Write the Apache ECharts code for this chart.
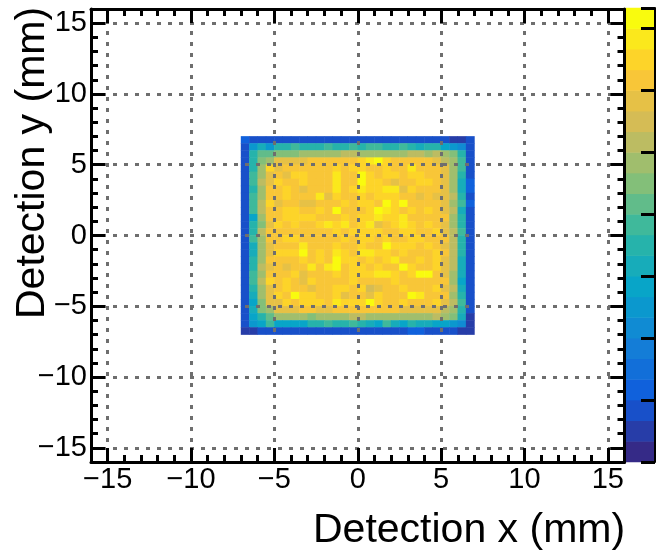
<!DOCTYPE html>
<html><head><meta charset="utf-8">
<style>html,body{margin:0;padding:0;background:#fff;overflow:hidden}#c{width:656px;height:555px}</style>
<script src="https://cdn.jsdelivr.net/npm/echarts@6/dist/echarts.min.js"></script>
</head><body><div id="c"></div>
<script>
// Palette level (0..21) of every 0.5 mm bin, rows from y=+7 (top) to y=-7, columns from x=-7 to x=+7
const levelRows = [
[3,2,2,2,2,2,2,2,2,2,2,2,2,2,2,2,2,2,2,2,2,2,2,2,2,1,1,2],
[2,7,9,7,10,10,11,10,10,10,11,10,10,11,10,11,11,10,10,11,10,9,10,10,8,7,6,2],
[2,10,12,12,13,13,13,14,14,14,14,14,15,15,14,14,14,14,14,14,15,15,14,15,14,13,10,2],
[2,10,13,14,17,17,17,17,18,18,18,18,18,18,19,20,21,19,18,18,18,18,18,17,15,14,11,2],
[2,10,14,19,17,18,18,18,18,18,18,19,18,19,19,18,18,19,18,18,20,18,18,18,17,14,11,2],
[2,11,14,17,18,17,19,19,18,18,18,20,18,18,21,19,18,19,19,18,19,19,18,18,17,14,10,2],
[2,11,15,17,19,18,18,19,18,18,18,20,18,18,21,19,19,18,17,18,18,19,19,18,17,14,9,3],
[2,10,14,18,18,19,18,17,18,18,18,20,18,19,20,19,19,20,20,17,19,18,18,18,17,14,9,3],
[2,11,14,18,18,19,18,18,18,20,17,19,18,18,19,18,19,19,19,18,18,17,18,17,17,15,10,2],
[2,11,15,19,17,18,18,17,17,18,18,18,19,18,19,19,18,21,19,21,18,18,18,18,17,14,11,3],
[2,11,15,18,18,19,19,18,18,19,18,21,18,18,18,19,21,20,19,18,19,18,19,18,17,15,9,2],
[2,8,14,18,18,19,19,19,19,18,18,18,19,18,19,19,20,19,19,20,18,18,18,18,18,14,10,2],
[2,10,13,17,19,18,19,18,18,19,20,19,20,18,19,20,17,18,19,20,19,18,19,18,17,14,10,2],
[2,10,15,18,18,18,18,18,18,18,18,19,18,19,19,19,19,18,18,19,19,18,18,19,17,15,11,2],
[2,11,14,18,18,19,19,18,18,18,18,18,19,18,19,19,18,19,18,18,19,19,18,18,18,15,10,2],
[2,9,14,17,18,18,18,20,18,18,18,19,18,18,19,18,18,21,19,19,19,18,19,18,17,15,10,2],
[2,9,14,17,19,19,19,21,18,19,18,20,19,18,20,20,19,19,18,19,18,18,18,19,18,15,10,2],
[2,10,14,18,18,18,18,19,18,19,18,21,19,19,18,19,18,19,20,18,18,19,18,19,17,15,9,2],
[2,10,15,17,18,17,18,18,20,18,20,21,18,19,19,18,19,18,18,21,19,18,18,19,17,15,9,2],
[2,11,14,18,18,18,19,17,18,18,18,19,18,19,19,19,20,20,19,18,19,21,21,18,17,14,9,2],
[2,11,15,19,18,19,18,17,19,18,18,18,18,19,18,18,18,18,19,18,18,18,18,18,18,14,8,2],
[2,10,14,17,18,19,18,18,17,18,18,19,19,18,19,16,17,18,18,19,18,18,18,19,17,15,9,2],
[2,9,14,17,19,18,21,19,19,18,18,19,17,18,18,17,19,18,18,18,21,20,18,18,18,14,10,2],
[2,8,13,17,17,19,18,19,19,19,18,20,19,19,19,21,19,18,18,19,18,18,18,19,17,15,11,2],
[2,9,13,14,17,17,17,18,18,17,17,18,18,18,18,18,18,18,18,17,17,17,17,17,15,14,10,2],
[2,8,10,12,14,14,14,14,13,14,14,14,14,15,15,14,14,14,14,14,14,14,14,15,14,13,9,1],
[2,7,8,11,8,8,8,8,10,10,11,10,10,11,10,9,8,11,9,8,10,9,9,8,8,7,6,1],
[1,1,2,2,2,2,2,2,2,2,2,2,2,2,2,2,2,2,2,2,3,3,2,2,2,2,1,1]
];
// ROOT "bird" palette anchors
const birdStops = [[53,42,135],[15,92,221],[20,129,214],[6,164,202],[46,183,164],[135,191,119],[209,187,89],[254,200,50],[249,251,14]];
const levelCount = 22;
const xMajorTicks = [-15,-10,-5,0,5,10,15];
const yMajorTicks = [-15,-10,-5,0,5,10,15];
const axisRange = [-16,16];
const binWidth = 0.5;

const palette = [];
for (let i=0;i<levelCount;i++){
  const t=i/(levelCount-1)*(birdStops.length-1), k=Math.min(Math.floor(t),birdStops.length-2), f=t-k;
  const c=birdStops[k].map((v,j)=>Math.round(v+(birdStops[k+1][j]-v)*f));
  palette.push(`rgb(${c[0]},${c[1]},${c[2]})`);
}
const binCats=[]; for(let v=axisRange[0];v<axisRange[1];v+=binWidth) binCats.push(String(v));
const offset=(-7-axisRange[0])/binWidth;
const cells=[];
levelRows.forEach((r,ri)=>r.forEach((lv,ci)=>cells.push([ci+offset,levelRows.length-1-ri+offset,lv])));
const fmt=v=>v<0?'\u2212'+Math.abs(v):String(v);
const lineBlack={color:'#000',width:3};
function axes(pos,vals,isX){
  const base={type:'value',min:axisRange[0],max:axisRange[1],gridIndex:0,position:pos,z:6,scale:false};
  const labelled=(pos==='bottom'||pos==='left');
  return [
   Object.assign({},base,{axisLine:{show:true,onZero:false,lineStyle:lineBlack},
     axisTick:{show:true,inside:true,length:14,customValues:vals,lineStyle:lineBlack},
     axisLabel:labelled?{show:true,customValues:vals,formatter:fmt,color:'#000',fontFamily:'Liberation Sans',fontSize:29,margin:isX?3:4,hideOverlap:false,showMinLabel:true,showMaxLabel:true}:{show:false},
     splitLine:labelled?{show:true,customValues:vals,lineStyle:{color:'#6e6e6e',width:3,type:[4,7]}}:{show:false}}),
   Object.assign({},base,{interval:1,axisLine:{show:false,onZero:false},axisTick:{show:true,inside:true,length:7,lineStyle:lineBlack},axisLabel:{show:false},splitLine:{show:false}})
  ];
}
const hiddenCat={type:'category',data:binCats,show:false,gridIndex:0,boundaryGap:true};
const xAxes=[hiddenCat].concat(axes('bottom',xMajorTicks,true),axes('top',xMajorTicks,true));
const yAxes=[hiddenCat].concat(axes('left',yMajorTicks,false),axes('right',yMajorTicks,false));
// colour bar
const levelCats=palette.map((_,i)=>String(i));
xAxes.push({type:'category',data:['z'],show:false,gridIndex:1});
const barCatY=yAxes.length; yAxes.push({type:'category',data:levelCats,show:false,gridIndex:1});
const barX=xAxes.length-1;
yAxes.push({type:'value',gridIndex:1,position:'right',min:0,max:levelCount,interval:3,z:6,
  axisLine:{show:true,onZero:false,lineStyle:{color:'#000',width:2}},axisTick:{show:true,inside:true,length:14,lineStyle:lineBlack},axisLabel:{show:false},splitLine:{show:false}});
const chart=echarts.init(document.getElementById('c'),null,{renderer:'canvas'});
chart.setOption({
  animation:false,backgroundColor:'#fff',
  grid:[{left:91,top:9,width:533.5,height:453,containLabel:false},{left:626,top:8,width:29,height:454}],
  xAxis:xAxes,yAxis:yAxes,
  visualMap:{show:false,type:'piecewise',dimension:2,seriesIndex:[0,1],pieces:palette.map((c,i)=>({value:i,color:c}))},
  series:[
   {type:'heatmap',xAxisIndex:0,yAxisIndex:0,data:cells,z:2,itemStyle:{borderWidth:0},emphasis:{disabled:true}},
   {type:'heatmap',xAxisIndex:barX,yAxisIndex:barCatY,data:palette.map((_,i)=>[0,i,i]),z:2,emphasis:{disabled:true}}
  ],
  graphic:[
   {type:'text',z:10,left:313,top:510,style:{text:'Detection x (mm)',font:'41px "Liberation Sans"',fill:'#000'}},
   {type:'text',z:10,x:12,y:319,rotation:Math.PI/2,style:{text:'Detection y (mm)',font:'41px "Liberation Sans"',fill:'#000'}}
  ]
});
</script></body></html>
